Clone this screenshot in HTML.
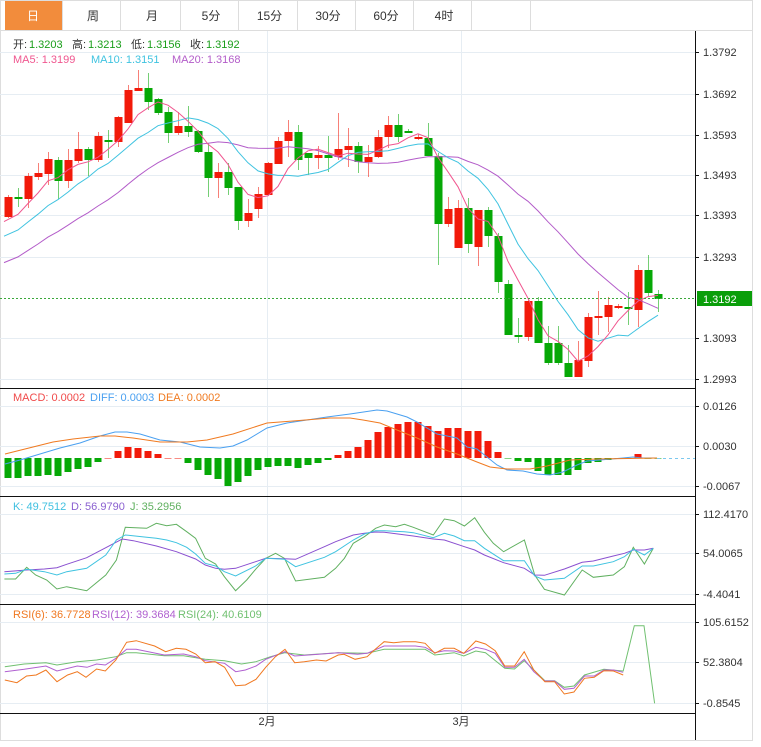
<!DOCTYPE html>
<html><head><meta charset="utf-8"><style>
body{margin:0;background:#fff;width:761px;height:747px;overflow:hidden;font-family:"Liberation Sans","Noto Sans CJK SC",sans-serif;}
svg{position:absolute;left:0;top:0}
</style></head><body>
<svg id="s" width="761" height="747" xmlns="http://www.w3.org/2000/svg" font-family="Liberation Sans, Noto Sans CJK SC, sans-serif"></svg>
<script>
var s=document.getElementById('s'),h='';
function L(x1,y1,x2,y2,c,w,extra){h+='<line x1="'+x1+'" y1="'+y1+'" x2="'+x2+'" y2="'+y2+'" stroke="'+c+'" stroke-width="'+(w||1)+'" '+(extra||'')+'/>';}
function R(x,y,w,hh,c,extra){h+='<rect x="'+x+'" y="'+y+'" width="'+w+'" height="'+hh+'" fill="'+c+'" '+(extra||'')+'/>';}
function T(x,y,t,c,sz,anchor){h+='<text x="'+x+'" y="'+y+'" fill="'+c+'" font-size="'+(sz||12)+'"'+(anchor?' text-anchor="'+anchor+'"':'')+'>'+t+'</text>';}
function P(pts,c,w){h+='<polyline fill="none" stroke="'+c+'" stroke-width="'+(w||1)+'" points="'+pts.map(function(p){return p[0].toFixed(1)+','+p[1].toFixed(1)}).join(' ')+'"/>';}
// frame
R(0.5,0.5,752,740,'none','stroke="#ddd"');
// tabs
var tabs=[['日',0,62],['周',62,120],['月',120,180],['5分',180,238],['15分',238,297],['30分',297,355],['60分',355,413],['4时',413,471],['',471,530]];
tabs.forEach(function(t,i){
 if(i==0)R(t[1]+5,1,t[2]-t[1]-5,29,'#f28c3c');
 L(t[2]+0.5,0,t[2]+0.5,30,'#ddd');
 if(t[0])T((t[1]+t[2])/2+2,20,t[0],i==0?'#fff':'#333',12,'middle');
});
L(0,30.5,752,30.5,'#ddd');
var G='#e6edf3';
// horizontal grids
[52,94,135,175,215,257,338,379].forEach(function(y){L(0,y+.5,695,y+.5,G);});
[406,446,486].forEach(function(y){L(0,y+.5,695,y+.5,G);});
[514,553,594].forEach(function(y){L(0,y+.5,695,y+.5,G);});
[622,662,703].forEach(function(y){L(0,y+.5,695,y+.5,G);});
[267,461].forEach(function(x){L(x+.5,31,x+.5,713,G);});
// panel borders
[388,496,604,713].forEach(function(y){L(0,y+.5,695,y+.5,'#111');});
L(695.5,31,695.5,740,'#111');
// right labels
function RL(y,t){L(695,y+.5,699,y+.5,'#111');T(703,y+4,t,'#333',11);}
[[52,'1.3792'],[94,'1.3692'],[135,'1.3593'],[175,'1.3493'],[215,'1.3393'],[257,'1.3293'],[338,'1.3093'],[379,'1.2993'],
 [406,'0.0126'],[446,'0.0030'],[486,'-0.0067'],[514,'112.4170'],[553,'54.0065'],[594,'-4.4041'],[622,'105.6152'],[662,'52.3804'],[703,'-0.8545']].forEach(function(a){RL(a[0],a[1]);});
// candles [open,close,high,low] in px y
var C=[[217,197,195,218],[197,199,188,207],[199,176,173,208],[177,173,163,180],[174,159,152,185],[160,181,157,199],[181,160,149,188],[161,149,132,163],[149,160,147,176],[160,136,132,162],
[140,142,130,158],[142,117,116,147],[123,90,85,123],[91,88,70,91],[88,102,73,110],[99,113,98,115],[112,133,107,143],[133,126,112,135],[126,132,106,137],[131,152,130,153],
[152,178,143,197],[178,172,163,198],[172,188,163,195],[187,221,187,230],[221,213,199,227],[209,194,187,218],[195,163,162,195],[164,141,137,164],[141,132,120,157],[132,160,125,170],
[153,158,153,175],[158,155,146,169],[155,158,136,172],[157,149,113,160],[150,146,128,167],[146,162,142,173],[162,157,145,177],[157,137,130,158],[137,125,116,148],[125,137,114,142],
[131,133,129,133],[139,137,134,140],[138,156,123,156],[156,224,153,265],[224,209,197,227],[248,208,200,248],[208,244,198,253],[247,210,210,266],[210,236,207,247],[236,282,233,293],
[284,335,280,335],[335,337,318,343],[337,301,298,341],[301,343,297,343],[343,363,326,365],[343,363,326,365],[363,377,345,377],[377,360,341,377],[361,317,313,367],[318,316,291,335],
[317,305,297,332],[307,306,304,309],[307,309,292,325],[310,270,265,327],[270,293,255,296],[294,299,290,312]];
var RED='#f21a0a',GR='#06a806';
var closes=[];for(var k=0;k<19;k++)closes.push(312-(97*k/19));
C.forEach(function(c,i){
 var x=8+10*i,up=c[1]<c[0]||(c[1]==c[0]&&i%2==0);var col=(c[1]<c[0])?RED:(c[1]>c[0]?GR:RED);
 if(i==1||i==10||i==40||i==51||i==62)col=GR; if(i==13||i==41||i==59||i==61)col=RED;
 L(x+.5,c[2],x+.5,c[3],col,1,'opacity="0.55"');
 var t=Math.min(c[0],c[1]),b=Math.max(c[0],c[1]);if(b-t<2)b=t+2;
 R(x-3.5,t,8,b-t,col);
 closes.push(c[1]);
});
function MA(n){var pts=[];for(var i=0;i<C.length;i++){var j=i+19,sum=0;for(var k=0;k<n;k++)sum+=closes[j-k];pts.push([8+10*i,sum/n]);}pts[0][0]=4;return pts;}
P(MA(20),'#b35cc9');P(MA(10),'#3fc3e0');P(MA(5),'#f0568f');
// current price line
L(0,298.5,695,298.5,'#3aa83a',1,'stroke-dasharray="2,2"');
R(697,291,55,15,'#0a9e0a');T(703,303,'1.3192','#fff',11);
// legends
T(13,48,'开:','#333',11);T(29,48,'1.3203','#1a9e1a',11);
T(72,48,'高:','#333',11);T(88,48,'1.3213','#1a9e1a',11);
T(131,48,'低:','#333',11);T(147,48,'1.3156','#1a9e1a',11);
T(190,48,'收:','#333',11);T(206,48,'1.3192','#1a9e1a',11);
T(13,63,'MA5: 1.3199','#f0568f',11);T(91,63,'MA10: 1.3151','#3fc3e0',11);T(172,63,'MA20: 1.3168','#b35cc9',11);
T(13,401,'MACD: 0.0002','#f04a4a',11);T(90,401,'DIFF: 0.0003','#4aa0f0',11);T(158,401,'DEA: 0.0002','#f07a20',11);
T(13,510,'K: 49.7512','#40c0e0',11);T(71,510,'D: 56.9790','#8a60d0',11);T(130,510,'J: 35.2956','#60b060',11);
T(13,618,'RSI(6): 36.7728','#f07820',11);T(92,618,'RSI(12): 39.3684','#b060d0',11);T(178,618,'RSI(24): 40.6109','#70c070',11);
// MACD hist
var HB=[478,478,476,476,475,476,472,469,467,462,458,451,447,448,451,454,457,458,463,470,475,479,486,482,476,470,467,466,466,468,465,463,460,455,451,447,440,432,427,424,422,422,426,431,428,428,431,431,441,452,459,461,462,471,475,475,475,470,463,462,460,459,459,454,459,459];
var Z=458;
HB.forEach(function(y,i){var x=8+10*i;if(Math.abs(y-Z)<1.5){L(x-3.5,Z+.5,x+3.5,Z+.5,y>Z?GR:RED,1,'opacity="0.5"');return;}
 var red=y<Z;if(i>=18&&i<=32)red=false;if(i<=9)red=false;
 R(x-3.5,Math.min(y,Z),7,Math.abs(y-Z),red?RED:GR);});
L(657,458.5,695,458.5,'#7cc8ee',1,'stroke-dasharray="3,3"');
P([[5,464],[20,460],[40,454],[60,448],[80,443],[100,436],[115,432],[127,432],[140,434],[160,440],[180,442],[200,447],[220,448],[233,446],[247,440],[267,428],[287,423],[307,420],[327,417],[350,414],[377,410],[387,411],[407,417],[417,422],[437,434],[447,436],[457,438],[467,447],[477,449],[487,457],[497,465],[507,470],[523,471],[537,474],[550,475],[563,472],[577,465],[587,461],[600,460],[623,458],[633,457],[643,458],[657,458]],'#4aa0f0');
P([[5,454],[33,447],[53,442],[73,439],[100,436],[115,436],[133,438],[160,442],[187,442],[207,440],[233,434],[267,423],[293,421],[330,418],[350,418],[363,420],[380,423],[397,430],[417,438],[437,447],[457,454],[477,462],[490,467],[507,469],[530,469],[547,466],[570,460],[597,459],[657,458]],'#f07a20');
// KDJ
function KP(a){return a.map(function(p){return [p[0]/2.25,500+p[1]/3];});}
P(KP([[10,237],[35,237],[60,202],[80,225],[105,240],[128,267],[150,260],[195,272],[238,225],[262,180],[282,82],[330,85],[352,70],[375,77],[397,73],[420,95],[440,115],[462,175],[485,192],[505,230],[530,272],[555,240],[575,208],[598,175],[620,160],[640,175],[665,243],[730,232],[755,205],[775,175],[795,130],[820,110],[845,85],[865,75],[890,80],[910,73],[930,82],[975,105],[1000,57],[1022,62],[1045,78],[1068,53],[1090,97],[1110,130],[1133,155],[1180,120],[1203,225],[1225,268],[1270,285],[1310,210],[1335,232],[1380,225],[1405,200],[1425,142],[1450,192],[1470,145]]),'#60b060');
P(KP([[10,215],[60,210],[100,207],[128,203],[150,193],[195,173],[238,143],[275,117],[300,122],[352,138],[397,155],[440,177],[462,195],[485,205],[505,208],[530,205],[575,185],[598,175],[640,176],[665,178],[730,140],[755,125],[795,105],[820,100],[845,96],[865,97],[930,108],[975,117],[1000,120],[1045,140],[1068,150],[1090,165],[1133,188],[1180,205],[1203,225],[1225,226],[1270,207],[1310,187],[1335,183],[1380,168],[1405,160],[1425,150],[1450,150],[1470,145]]),'#8a50d0');
P(KP([[10,222],[35,220],[60,208],[100,215],[128,225],[150,215],[195,205],[238,165],[262,120],[282,105],[330,112],[352,115],[375,120],[397,128],[420,142],[440,162],[462,190],[485,198],[505,215],[530,228],[575,198],[598,175],[640,178],[665,200],[730,172],[755,155],[795,120],[820,102],[845,92],[865,92],[910,95],[930,98],[975,113],[1000,100],[1022,108],[1045,122],[1068,122],[1090,145],[1133,182],[1180,182],[1203,228],[1225,240],[1270,235],[1310,198],[1335,198],[1380,185],[1405,170],[1425,148],[1450,165],[1470,145]]),'#3fc3e0');
// RSI
function RP(a){return a.map(function(p){return [p[0]/2.07,590+p[1]/3];});}
P(RP([[10,230],[50,222],[95,218],[118,225],[160,215],[200,210],[240,200],[262,188],[282,188],[340,197],[380,197],[425,208],[465,212],[500,222],[530,215],[560,200],[590,188],[630,195],[700,188],[760,190],[795,178],[880,178],[900,195],[940,188],[960,198],[985,183],[1005,188],[1045,235],[1065,237],[1085,212],[1128,272],[1148,272],[1168,292],[1188,288],[1210,255],[1250,238],[1290,243],[1313,107],[1333,107],[1355,340]]),'#70c070');
P(RP([[10,245],[50,238],[95,228],[118,243],[160,228],[180,232],[200,222],[218,225],[240,205],[262,178],[282,178],[340,195],[380,192],[405,200],[425,212],[465,220],[488,245],[508,240],[530,228],[550,208],[590,185],[610,198],[660,193],[700,188],[740,193],[760,190],[795,168],[860,168],[880,172],[900,188],[920,182],[940,183],[960,190],[985,172],[1005,178],[1025,190],[1045,232],[1065,232],[1085,208],[1105,245],[1128,273],[1148,273],[1168,298],[1188,295],[1210,258],[1230,258],[1250,240],[1270,240],[1290,247]]),'#b060d0');
P(RP([[10,270],[35,278],[55,258],[75,255],[95,240],[118,275],[140,255],[160,245],[178,262],[200,237],[218,243],[240,210],[262,157],[282,152],[320,168],[343,185],[365,175],[385,178],[405,192],[425,218],[445,215],[465,232],[488,287],[508,285],[530,268],[550,232],[570,200],[590,178],[610,218],[630,215],[655,210],[675,213],[700,195],[712,193],[735,208],[760,200],[775,180],[795,155],[815,158],[835,155],[860,155],[880,160],[900,190],[920,175],[940,175],[960,190],[985,153],[1005,162],[1025,182],[1045,228],[1065,228],[1085,185],[1105,240],[1128,275],[1148,275],[1168,312],[1188,306],[1210,265],[1230,262],[1250,242],[1270,243],[1290,255]]),'#f07820');
// bottom labels
T(267,725,'2月','#333',11,'middle');T(461,725,'3月','#333',11,'middle');
s.innerHTML=h;
</script>
</body></html>
